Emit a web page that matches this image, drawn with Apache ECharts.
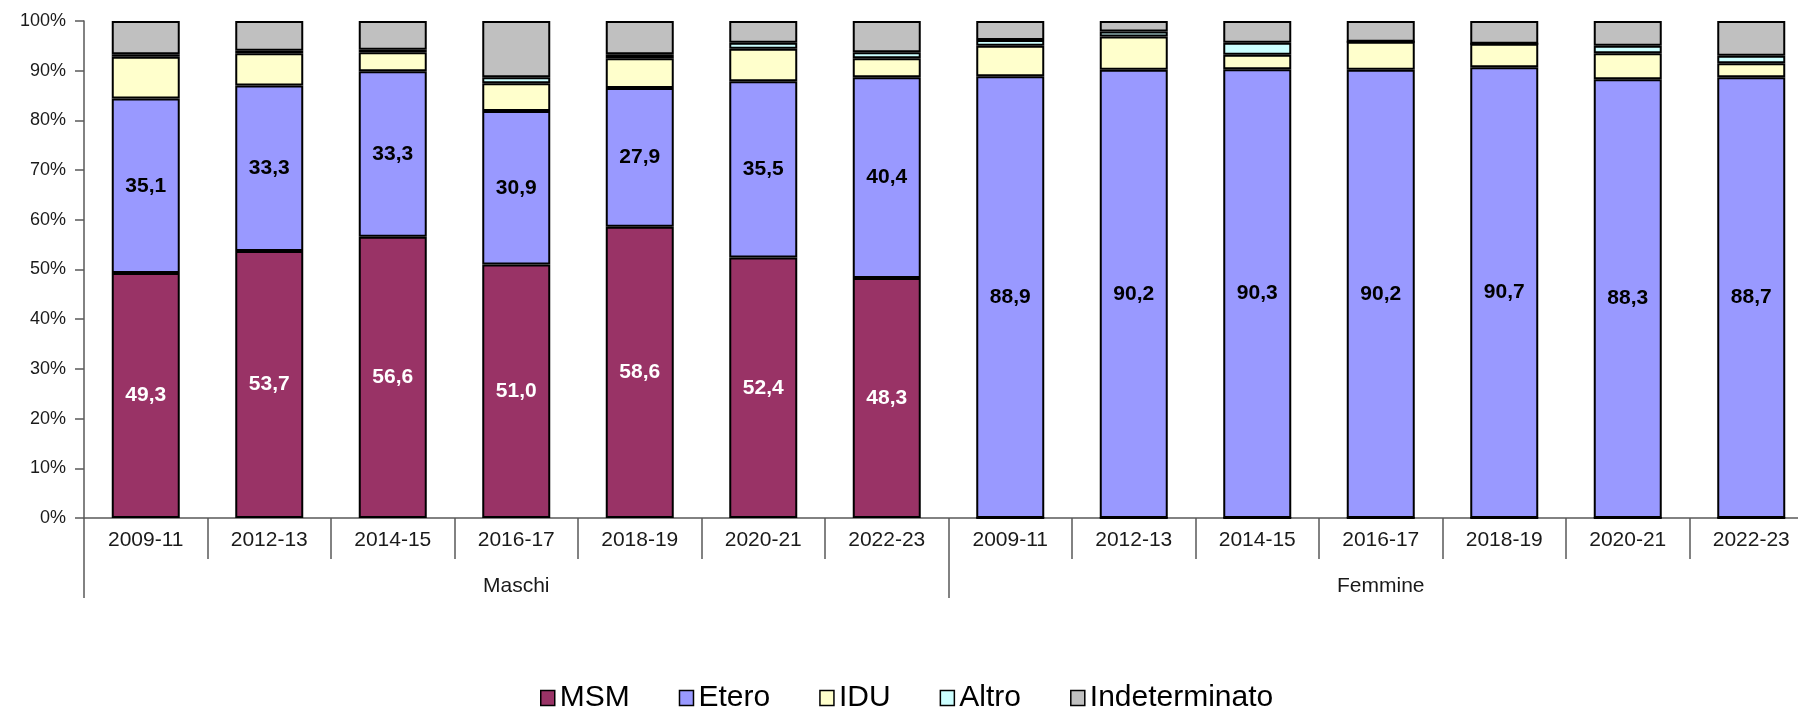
<!DOCTYPE html>
<html>
<head>
<meta charset="utf-8">
<script src="https://cdn.jsdelivr.net/npm/echarts@6/dist/echarts.min.js"></script>
<style>
  html, body { margin: 0; padding: 0; background: #fff; }
  #chart { width: 1798px; height: 707px; }
</style>
</head>
<body>
<div id="chart"></div>
<script>
  // categorie (periodi) e gruppi
  const periodi = ['2009-11', '2012-13', '2014-15', '2016-17', '2018-19', '2020-21', '2022-23',
                   '2009-11', '2012-13', '2014-15', '2016-17', '2018-19', '2020-21', '2022-23']
  const gruppi = ['Maschi', 'Femmine']
  const yTicks = [0, 10, 20, 30, 40, 50, 60, 70, 80, 90, 100]

  // percentuali per modalita di trasmissione
  const msm   = [49.3, 53.7, 56.6, 51.0, 58.6, 52.4, 48.3, 0, 0, 0, 0, 0, 0, 0]
  const etero = [35.1, 33.3, 33.3, 30.9, 27.9, 35.5, 40.4, 88.9, 90.2, 90.3, 90.2, 90.7, 88.3, 88.7]
  const idu   = [8.4, 6.5, 3.8, 5.6, 6.0, 6.5, 3.8, 6.1, 6.7, 2.9, 5.6, 4.7, 5.2, 2.8]
  const altro = [0.5, 0.5, 0.5, 1.2, 0.8, 1.2, 1.2, 1.2, 1.0, 2.4, 0, 0, 1.5, 1.5]
  const indet = [6.7, 6.0, 5.8, 11.3, 6.7, 4.4, 6.3, 3.8, 2.1, 4.4, 4.2, 4.6, 5.0, 7.0]

  const FONT = "'Liberation Sans', Arial, sans-serif"
  const fmt = v => v ? v.toFixed(1).replace('.', ',') : ''

  function serie(name, data, color, label) {
    return {
      name: name,
      type: 'bar',
      stack: 'tot',
      barWidth: 68,
      data: data,
      itemStyle: { color: color, borderColor: '#000', borderWidth: 2 },
      label: label ? {
        show: true,
        position: 'inside',
        color: label,
        fontFamily: FONT,
        fontWeight: 'bold',
        fontSize: 21,
        formatter: p => fmt(p.value)
      } : { show: false },
      emphasis: { disabled: true }
    }
  }

  let myChart = echarts.init(document.getElementById('chart'))
  myChart.setOption({
    animation: false,
    textStyle: { fontFamily: FONT },
    // il grafico originale prosegue oltre il bordo destro
    grid: { left: 84, top: 21, width: 1729, height: 497, outerBoundsMode: 'none', containLabel: false },
    legend: {
      left: 535,
      top: 678,
      icon: 'rect',
      itemWidth: 14,
      itemHeight: 15,
      itemGap: 49,
      textStyle: { fontSize: 30, color: '#000', fontFamily: FONT },
      itemStyle: { borderColor: '#000', borderWidth: 1.5 },
      data: ['MSM', 'Etero', 'IDU', 'Altro', 'Indeterminato']
    },
    xAxis: [
      {
        type: 'category',
        position: 'bottom',
        data: periodi,
        axisLine: { show: true, lineStyle: { color: '#595959', width: 1.5 } },
        axisTick: { show: true, interval: 0, length: 41, lineStyle: { color: '#595959', width: 1.5 } },
        axisLabel: { interval: 0, margin: 12, fontSize: 21, color: '#1a1a1a' }
      },
      {
        type: 'category',
        position: 'bottom',
        data: gruppi,
        axisLine: { show: false },
        axisTick: { show: true, interval: 0, length: 80, lineStyle: { color: '#595959', width: 1.5 } },
        axisLabel: { interval: 0, margin: 58, fontSize: 21, color: '#1a1a1a' }
      }
    ],
    yAxis: {
      type: 'value',
      min: yTicks[0],
      max: yTicks[yTicks.length - 1],
      interval: 10,
      axisLine: { show: true, lineStyle: { color: '#595959', width: 1.5 } },
      axisTick: { show: true, length: 9, lineStyle: { color: '#595959', width: 1.5 } },
      splitLine: { show: false },
      axisLabel: { margin: 18, fontSize: 18, color: '#1a1a1a', formatter: '{value}%' }
    },
    series: [
      serie('MSM', msm, '#993366', '#fff'),
      serie('Etero', etero, '#9999ff', '#000'),
      serie('IDU', idu, '#ffffcc'),
      serie('Altro', altro, '#ccffff'),
      serie('Indeterminato', indet, '#c0c0c0')
    ]
  })
</script>
</body>
</html>
